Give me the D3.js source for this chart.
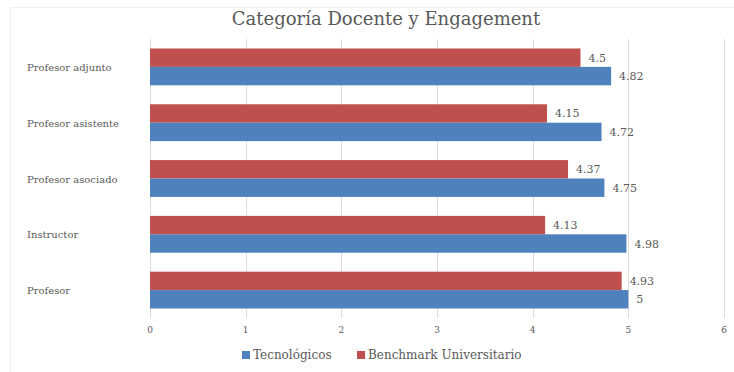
<!DOCTYPE html>
<html>
<head>
<meta charset="utf-8">
<script src="https://cdn.jsdelivr.net/npm/d3@7"></script>
<style>
  body { margin: 0; background: #fff; }
  svg { display: block; }
  text { font-family: "DejaVu Serif", serif; fill: #595959; }
</style>
</head>
<body>
<svg id="chart"></svg>
<script>
// Data
const categories = ['Profesor adjunto', 'Profesor asistente', 'Profesor asociado', 'Instructor', 'Profesor'];
const seriesNames = ['Benchmark Universitario', 'Tecnológicos']; // top bar first
const benchmark = [4.5, 4.15, 4.37, 4.13, 4.93];
const tecnologicos = [4.82, 4.72, 4.75, 4.98, 5];
const xTicks = [0, 1, 2, 3, 4, 5, 6];
const colors = { 'Tecnológicos': '#4f81bd', 'Benchmark Universitario': '#c0504d' };

const width = 734;
const height = 372;
const margin = { top: 39, right: 10, bottom: 54, left: 150 };

const svg = d3.select('#chart').attr('width', width).attr('height', height);

// faint outer frame
svg.append('rect')
	.attr('x', 10.5).attr('y', 7.5)
	.attr('width', 740).attr('height', 400)
	.attr('fill', 'none').attr('stroke', '#f0f0f0');

svg.append('text')
	.attr('x', 386).attr('y', 25)
	.attr('text-anchor', 'middle')
	.style('font-size', '18px')
	.text('Categoría Docente y Engagement');

const x = d3.scaleLinear().domain([0, 6]).range([margin.left, 724]);
const y = d3.scaleBand().domain(categories).range([margin.top, height - margin.bottom]).paddingInner(0.34).paddingOuter(0.17);
const ySub = d3.scaleBand().domain(seriesNames).range([0, y.bandwidth()]);

// gridlines
svg.append('g')
	.selectAll('line')
	.data(xTicks)
	.join('line')
	.attr('x1', (d) => Math.round(x(d)) + 0.5)
	.attr('x2', (d) => Math.round(x(d)) + 0.5)
	.attr('y1', margin.top)
	.attr('y2', height - margin.bottom)
	.attr('stroke', '#dedede');

// x tick labels
svg.append('g')
	.selectAll('text')
	.data(xTicks)
	.join('text')
	.attr('x', (d) => x(d))
	.attr('y', 333)
	.attr('text-anchor', 'middle')
	.style('font-size', '9px')
	.text((d) => d);

// category labels
svg.append('g')
	.selectAll('text')
	.data(categories)
	.join('text')
	.attr('x', 27)
	.attr('y', (d) => y(d) + y.bandwidth() / 2 + 4)
	.style('font-size', '10px')
	.text((d) => d);

const rows = [];
categories.forEach((c, i) => {
	rows.push({ cat: c, series: 'Benchmark Universitario', value: benchmark[i] });
	rows.push({ cat: c, series: 'Tecnológicos', value: tecnologicos[i] });
});

svg.append('g')
	.selectAll('rect')
	.data(rows)
	.join('rect')
	.attr('x', x(0))
	.attr('y', (d) => y(d.cat) + ySub(d.series))
	.attr('width', (d) => x(d.value) - x(0))
	.attr('height', ySub.bandwidth())
	.attr('fill', (d) => colors[d.series]);

svg.append('g')
	.selectAll('text')
	.data(rows)
	.join('text')
	.attr('x', (d) => x(d.value) + 8)
	.attr('y', (d) => y(d.cat) + ySub(d.series) + ySub.bandwidth() / 2 + 4)
	.style('font-size', '11px')
	.text((d) => d.value);

// legend
const legendItems = [
	{ name: 'Tecnológicos', x: 242 },
	{ name: 'Benchmark Universitario', x: 357 },
];
const legend = svg.append('g')
	.selectAll('g')
	.data(legendItems)
	.join('g')
	.attr('transform', (d) => `translate(${d.x},355)`);
legend.append('rect')
	.attr('x', 0).attr('y', -4)
	.attr('width', 8).attr('height', 8)
	.attr('fill', (d) => colors[d.name]);
legend.append('text')
	.attr('x', 11).attr('y', 4)
	.style('font-size', '12px')
	.text((d) => d.name);
</script>
</body>
</html>
